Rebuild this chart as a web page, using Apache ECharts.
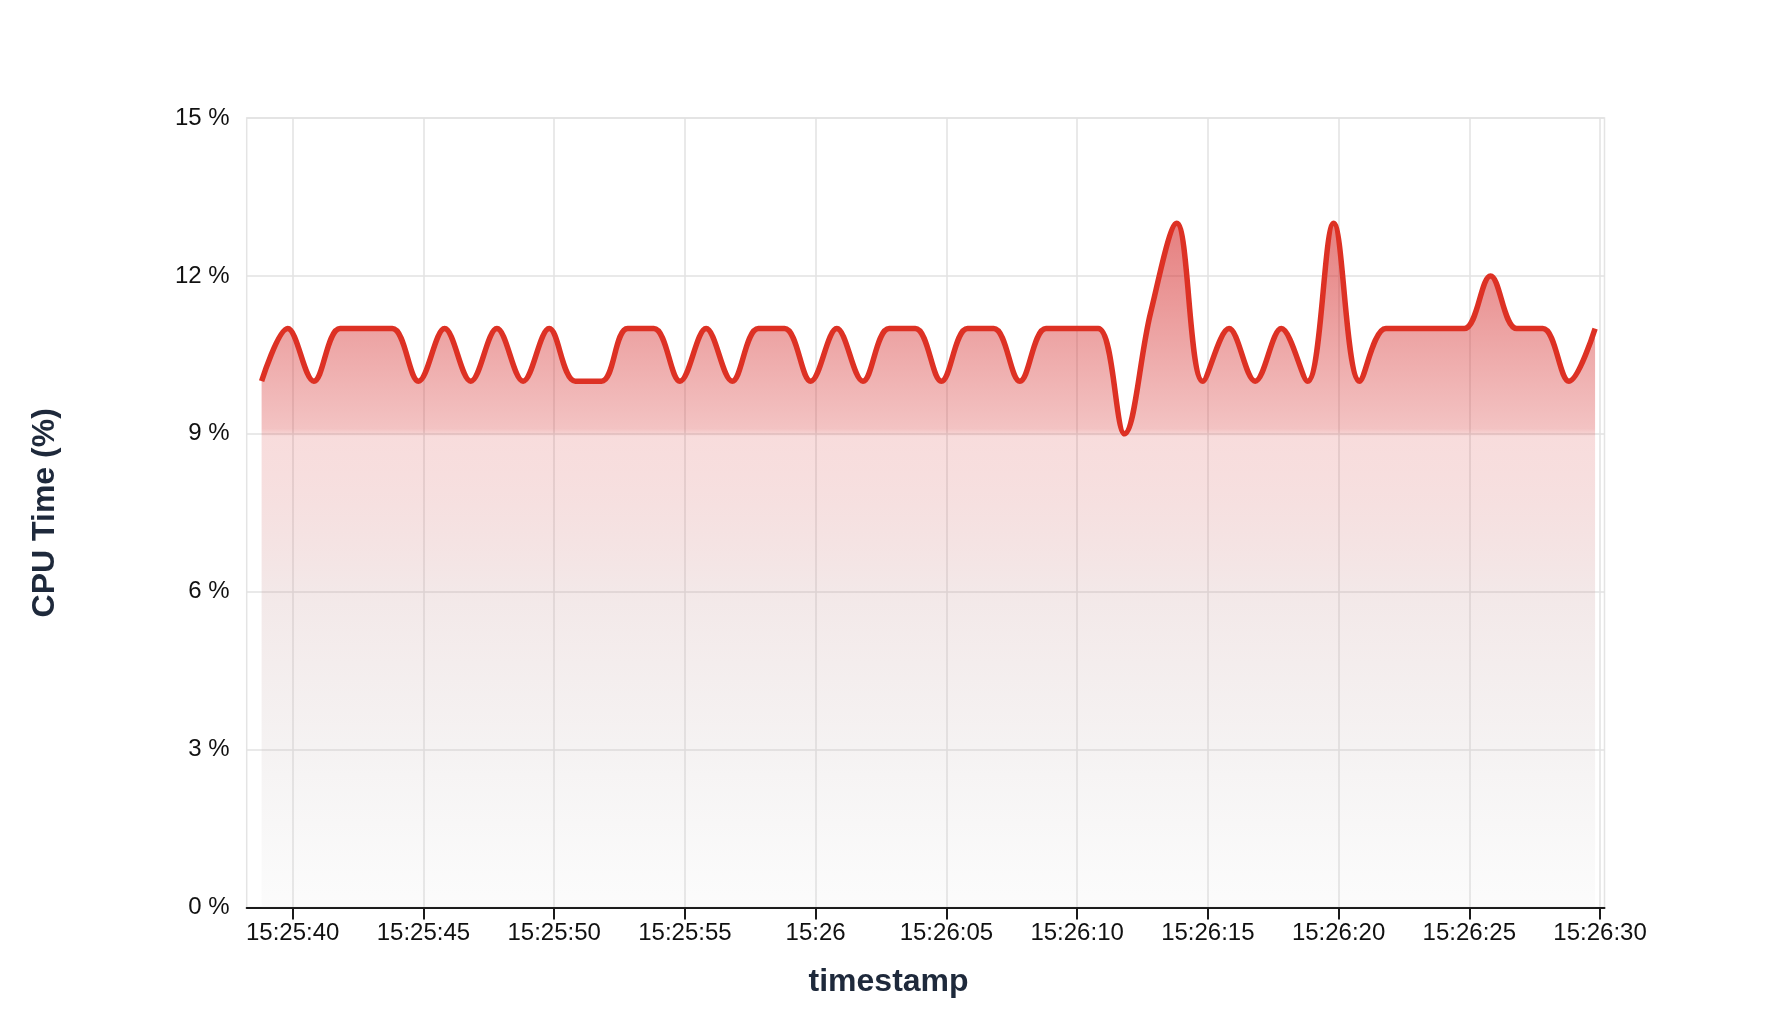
<!DOCTYPE html>
<html>
<head>
<meta charset="utf-8">
<script src="https://cdn.jsdelivr.net/npm/echarts@6/dist/echarts.min.js"></script>
<style>
html,body{margin:0;padding:0;background:#fff;}
#chart{width:1772px;height:1024px;}
</style>
</head>
<body>
<div id="chart"></div>
<script>
// ---- data ----
const timestamps = [
  '15:25:38.81','15:25:39.81','15:25:40.81','15:25:41.81','15:25:42.81','15:25:43.81',
  '15:25:44.81','15:25:45.81','15:25:46.81','15:25:47.81','15:25:48.81','15:25:49.81',
  '15:25:50.81','15:25:51.81','15:25:52.81','15:25:53.81','15:25:54.81','15:25:55.81',
  '15:25:56.81','15:25:57.81','15:25:58.81','15:25:59.81','15:26:00.81','15:26:01.81',
  '15:26:02.81','15:26:03.81','15:26:04.81','15:26:05.81','15:26:06.81','15:26:07.81',
  '15:26:08.81','15:26:09.81','15:26:10.81','15:26:11.81','15:26:12.81','15:26:13.81',
  '15:26:14.81','15:26:15.81','15:26:16.81','15:26:17.81','15:26:18.81','15:26:19.81',
  '15:26:20.81','15:26:21.81','15:26:22.81','15:26:23.81','15:26:24.81','15:26:25.81',
  '15:26:26.81','15:26:27.81','15:26:28.81','15:26:29.81'
];
const cpuTime = [
  10, 11, 10, 11, 11, 11,
  10, 11, 10, 11, 10, 11,
  10, 10, 11, 11, 10, 11,
  10, 11, 11, 10, 11, 10,
  11, 11, 10, 11, 11, 10,
  11, 11, 11, 9, 11.3, 13,
  10, 11, 10, 11, 10, 13,
  10, 11, 11, 11, 11, 12,
  11, 11, 10, 11
];
const xRange = ['15:25:38.24', '15:26:30.17'];
const xTicks = ['15:25:40', '15:25:45', '15:25:50', '15:25:55', '15:26:00', '15:26:05',
                '15:26:10', '15:26:15', '15:26:20', '15:26:25', '15:26:30'];
const xTickLabels = ['15:25:40', '15:25:45', '15:25:50', '15:25:55', '15:26', '15:26:05',
                     '15:26:10', '15:26:15', '15:26:20', '15:26:25', '15:26:30'];
const yTicks = [0, 3, 6, 9, 12, 15];

// ---- helpers ----
function parseT(s) {
  const p = s.split(':');
  const sec = parseFloat(p[2]);
  const whole = Math.floor(sec);
  return new Date(2024, 0, 1, +p[0], +p[1], whole, Math.round((sec - whole) * 1000)).getTime();
}
const tickValues = xTicks.map(parseT);
const labelMap = {};
tickValues.forEach((v, i) => { labelMap[v] = xTickLabels[i]; });

const seriesData = timestamps.map((t, i) => [parseT(t), cpuTime[i]]);
const FONT = 'Liberation Sans, Arial, sans-serif';

const chart = echarts.init(document.getElementById('chart'), null, {renderer: 'canvas'});
chart.setOption({
  animation: false,
  backgroundColor: '#ffffff',
  textStyle: {fontFamily: FONT},
  grid: {
    left: 246.7, right: 167.5, top: 118, bottom: 116.4,
    show: true, borderColor: '#e4e4e4', borderWidth: 1.5, backgroundColor: 'transparent'
  },
  xAxis: {
    type: 'value',
    min: parseT(xRange[0]),
    max: parseT(xRange[1]),
    name: 'timestamp',
    nameLocation: 'middle',
    nameGap: 59,
    nameTextStyle: {
      fontSize: 32, fontWeight: 'bold', color: '#1e293b',
      fontFamily: FONT,
      padding: [0, 74, 0, 0]
    },
    axisLine: {show: true, lineStyle: {color: '#1a1a1a', width: 2}},
    axisTick: {show: true, length: 12, customValues: tickValues, lineStyle: {color: '#1a1a1a', width: 2}},
    axisLabel: {
      color: '#111111', fontSize: 24, margin: 14,
      fontFamily: FONT,
      customValues: tickValues,
      formatter: function (v) { return labelMap[v] !== undefined ? labelMap[v] : ''; }
    },
    splitLine: {show: true, lineStyle: {color: '#e2e2e2', width: 1.5}}
  },
  yAxis: {
    type: 'value',
    min: yTicks[0],
    max: yTicks[yTicks.length - 1],
    interval: yTicks[1] - yTicks[0],
    name: 'CPU Time (%)',
    nameLocation: 'middle',
    nameGap: 186,
    nameRotate: 90,
    nameTextStyle: {
      fontSize: 32, fontWeight: 'bold', color: '#1e293b',
      fontFamily: FONT
    },
    axisLine: {show: false},
    axisTick: {show: false},
    axisLabel: {
      color: '#111111', fontSize: 24, margin: 17,
      fontFamily: FONT,
      formatter: '{value} %'
    },
    splitLine: {show: true, lineStyle: {color: '#e2e2e2', width: 1.5}}
  },
  series: [{
    type: 'line',
    data: seriesData,
    smooth: 0.36,
    showSymbol: false,
    lineStyle: {color: '#dd3124', width: 5.5},
    itemStyle: {color: '#dd3124'},
    areaStyle: {
      color: new echarts.graphic.LinearGradient(0, 0, 0, 1, [
        {offset: 0, color: 'rgba(212, 40, 40, 0.85)'},
        {offset: 0.154, color: 'rgba(212, 40, 40, 0.62)'},
        {offset: 0.30, color: 'rgba(212, 40, 40, 0.40)'},
        {offset: 0.312, color: 'rgba(212, 40, 40, 0.23)'},
        {offset: 0.54, color: 'rgba(200, 150, 150, 0.31)'},
        {offset: 0.77, color: 'rgba(200, 185, 185, 0.26)'},
        {offset: 1, color: 'rgba(200, 200, 200, 0.09)'}
      ])
    }
  }]
});
</script>
</body>
</html>
